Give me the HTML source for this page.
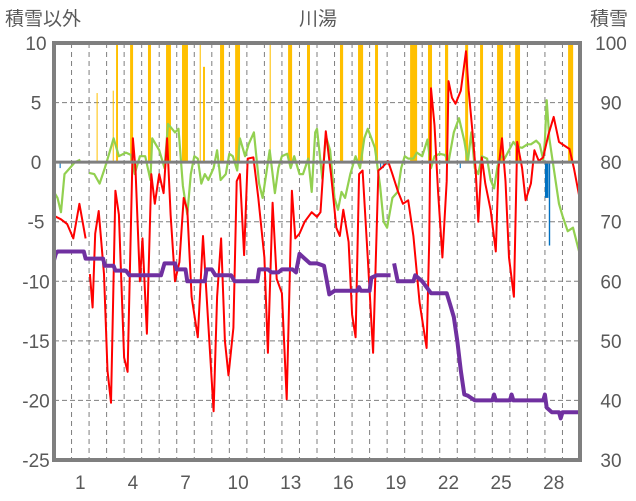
<!DOCTYPE html>
<html><head><meta charset="utf-8">
<style>
html,body{margin:0;padding:0;background:#fff;}
svg{display:block;font-family:"Liberation Sans","Noto Sans CJK JP",sans-serif;}
</style></head>
<body>
<svg id="chart" width="636" height="501" viewBox="0 0 636 501" xmlns="http://www.w3.org/2000/svg">
<text x="318" y="25" font-size="19" fill="#595959" text-anchor="middle">川湯</text>
<text x="5" y="25" font-size="19" fill="#595959">積雪以外</text>
<text x="590" y="25" font-size="19" fill="#595959">積雪</text>
<g id="grid"></g>
<g id="bars"></g>
<g id="lines"></g>
<g id="axes"></g>
</svg>
<script>
const leftTicks=[10,5,0,-5,-10,-15,-20,-25];
const rightTicks=[100,90,80,70,60,50,40,30];
const dayLabels=[1,4,7,10,13,16,19,22,25,28];
const precipStart=[2.43,3.35,3.54,4.34,5.36,6.39,7.30,8.31,8.50,9.47,10.33,12.30,13.35,14.43,16.31,17.34,18.31,20.31,21.33,22.30,23.45,24.30,25.27,26.30,29.32];
const precipEnd=[2.48,3.40,3.65,4.51,5.53,6.67,7.64,8.37,8.61,9.70,10.61,12.36,13.58,14.60,16.49,17.63,18.48,20.71,21.56,22.48,23.62,24.47,25.61,26.58,29.61];
const precipVal=[5.8,6,10,10,10,10,10,10,8,10,10,10,10,10,10,10,10,10,10,10,10,10,10,10,10];
const negStart=[0.32,9.34,18.6,18.75,23.14,28.0,28.22];
const negEnd=[0.38,9.40,18.66,18.81,23.2,28.2,28.3];
const negVal=[-0.5,-0.4,-0.5,-0.5,-0.5,-3,-7];
const redT=[0,0.4,0.75,1.1,1.45,1.8,1.9,2.05,2.2,2.35,2.55,2.85,3.05,3.25,3.5,3.7,4.0,4.2,4.5,4.65,4.9,5.05,5.3,5.55,5.75,6.0,6.25,6.45,6.65,6.9,7.15,7.4,7.6,7.85,8.2,8.5,8.8,9.1,9.3,9.53,9.75,9.95,10.23,10.42,10.6,10.84,11.05,11.37,11.65,12.0,12.2,12.47,12.7,13.0,13.27,13.57,13.76,14.0,14.3,14.7,15.0,15.2,15.5,15.8,16.1,16.3,16.5,16.8,17.0,17.2,17.4,17.6,17.9,18.2,18.5,18.75,19.05,19.3,19.6,19.9,20.2,20.5,20.85,21.25,21.4,21.5,21.7,21.9,22.15,22.4,22.5,22.7,22.9,23.2,23.5,23.65,23.85,24.05,24.2,24.4,24.6,24.9,25.2,25.35,25.55,25.75,25.95,26.23,26.42,26.7,26.9,27.2,27.4,27.65,27.9,28.2,28.5,28.8,29.1,29.4,29.65,29.95];
const redV=[-4.5,-4.8,-5.2,-6.4,-3.5,-6.4,null,-9.4,-12.2,-6,-4.1,-9.4,-17.5,-20.2,-2.4,-4.4,-16.4,-17.6,2,-0.6,-10,-6.4,-14.4,-1,-3.5,-1,-2.6,2,-4.4,-10,-8.4,-3,-4,-11.3,-14.7,-6.2,-13.6,-20.9,-11.3,-6.4,-15,-17.9,-13.9,-1.6,-1,-7.8,0.3,0.4,-3,-8,-16,-3.4,-9.8,-11,-19.9,-2.4,-6.4,-6,-5,-4.2,-4.6,-4.2,2.6,-1,-5.5,-6.2,-4,-6.7,-12.8,-14.7,-1,-0.7,-8.1,-16,-0.7,-0.4,0.1,-1,-2.4,-3.5,-3.2,-6.2,-11.8,-15.6,-6.7,6.2,3.1,-2.4,-8,-1.6,6.8,5.4,4.9,6,9.3,6,2.8,-0.7,-5,0.4,-1.8,-4,-7.5,-0.5,2,-1.6,-8,-11.3,1.7,-0.5,-3.2,-1.8,1,0.1,0.4,2.3,3.8,1.7,1.4,1.1,-0.5,-2.8];
const greenT=[0,0.2,0.4,0.6,0.9,1.2,1.5,1.75,2.0,2.3,2.6,2.9,3.1,3.4,3.7,4.1,4.4,4.6,4.9,5.2,5.5,5.6,6.0,6.3,6.5,6.9,7.1,7.35,7.6,7.8,8.0,8.2,8.4,8.6,8.8,9.1,9.3,9.5,9.8,10.0,10.2,10.45,10.6,10.9,11.1,11.4,11.7,11.9,12.1,12.3,12.6,12.8,13.0,13.3,13.5,13.7,14.0,14.2,14.5,14.7,14.9,15.0,15.3,15.5,15.75,16.0,16.2,16.4,16.6,16.9,17.2,17.45,17.7,17.9,18.1,18.3,18.6,18.8,19.0,19.3,19.6,19.8,20.0,20.2,20.5,20.7,21.0,21.3,21.5,21.7,22.0,22.3,22.5,22.8,23.1,23.4,23.6,23.8,24.0,24.2,24.4,24.7,24.9,25.1,25.3,25.5,25.7,25.95,26.2,26.4,26.7,27.0,27.2,27.5,27.7,27.9,28.0,28.1,28.25,28.5,28.8,29.0,29.3,29.6,29.95];
const greenV=[-2.5,-3,-4.2,-1,-0.5,0,0.2,null,-0.9,-1,-1.8,-0.5,0.5,2,0.5,0.8,0.6,-1,0.5,0.5,-1.5,2,1,-0.5,3.2,2.5,2.8,-2,-4.4,-1,0.5,0.3,-1.8,-1,-1.5,-0.5,1,-1.5,-1,0.7,0.5,-0.7,2,0.5,1.5,2.5,-1.8,-3,-1,1,-2.6,-0.5,0.5,0.7,-0.5,0.5,-1,-1,0.3,-2.5,2.5,2.8,-1.4,2.2,1,-3,-4,-2.5,-3,-1,0.5,-0.5,2,2.8,2,1.2,-2,-5,-5.5,-3,-2.5,-0.5,0.5,0.3,0.3,0.8,0.5,1.9,-0.5,0.5,0.7,0.6,0,2.5,3.7,1.8,0,2.5,-0.5,-1,0.5,0.3,-1.5,-2.2,-0.3,0.5,0.3,1,1.7,1.3,1.2,1.5,1.5,1.8,1.5,0.2,1.8,5.2,2,-0.5,-3.5,-4.5,-5.8,-5.5,-7.5];
const snowT=[0,0.1,0.2,1.7,1.8,2.8,2.9,3.4,3.5,4.1,4.3,6.1,6.3,6.9,7.0,7.5,7.6,8.6,8.7,9.0,9.2,10.1,10.3,11.6,11.7,12.2,12.4,12.8,13.0,13.6,13.8,14.0,14.3,14.6,15.0,15.4,15.7,16.0,17.3,17.4,17.5,18.0,18.1,18.4,19.2,19.25,19.4,19.6,20.5,20.6,21.0,21.5,22.4,22.6,22.8,23.0,23.2,23.4,23.6,24.0,24.2,25.0,25.1,25.2,26.0,26.1,26.2,27.9,28.0,28.1,28.4,28.8,28.9,29.0,29.95];
const snowV=[63.5,64.6,65,65,63.8,63.8,62.6,62.6,61.8,61.8,61,61,63,63,62,62,60,60,62,62,61,61,60,60,62,62,61.5,61.5,62,62,61.5,64.6,63.8,63,63,62.6,57.8,58.4,58.4,59,58.4,58.4,60.6,61,61,null,63,60,60,61,60,58,58,56,54,50,45,41,40.8,40,40,40,41,40,40,41,40,40,41,38.8,38,38,37,38,38];

const X0=54,X1=580,Y0=43,Y1=460,DAYS=30;
const xS=t=>X0+(X1-X0)*t/DAYS;
const yL=v=>Y1-(v+25)/35*(Y1-Y0);
const yR=s=>Y1-(s-30)/70*(Y1-Y0);
const NS="http://www.w3.org/2000/svg";
function mk(tag,parent){const e=document.createElementNS(NS,tag);parent.appendChild(e);return e;}
const grid=document.getElementById('grid'),bars=document.getElementById('bars'),lines=document.getElementById('lines'),axes=document.getElementById('axes');

leftTicks.forEach(v=>{
  if(v!==0&&v!==10&&v!==-25){const l=mk('line',grid);
  
  
  l.setAttribute('x1',X0);l.setAttribute('x2',X1);l.setAttribute('y1',yL(v));l.setAttribute('y2',yL(v));
  l.setAttribute('stroke','#7f7f7f');l.setAttribute('stroke-width','1');l.setAttribute('stroke-dasharray','5,3');}
  const t=mk('text',axes);
  
  
  t.setAttribute('x',36);t.setAttribute('y',yL(v)+7);t.setAttribute('font-size','19');t.setAttribute('fill','#595959');t.setAttribute('text-anchor','middle');
  t.textContent=v;
});
rightTicks.forEach(s=>{
  const t=mk('text',axes);
  
  
  t.setAttribute('x',611);t.setAttribute('y',yR(s)+7);t.setAttribute('font-size','19');t.setAttribute('fill','#595959');t.setAttribute('text-anchor','middle');
  t.textContent=s;
});
for(let d=1;d<DAYS;d++){
  const l=mk('line',grid);
  
  
  l.setAttribute('x1',xS(d));l.setAttribute('x2',xS(d));l.setAttribute('y1',Y0);l.setAttribute('y2',Y1);
  l.setAttribute('stroke','#7f7f7f');l.setAttribute('stroke-width','1');l.setAttribute('stroke-dasharray','5,4');
}
dayLabels.forEach(d=>{
  const t=mk('text',axes);
  
  
  t.setAttribute('x',xS(d+0.5));t.setAttribute('y',489);t.setAttribute('font-size','19');t.setAttribute('fill','#595959');t.setAttribute('text-anchor','middle');
  t.textContent=d;
});
precipStart.forEach((s,i)=>{
  const r=mk('rect',bars);
  
  
  const v=Math.min(precipVal[i],10);
  r.setAttribute('x',xS(s));r.setAttribute('width',Math.max(1,xS(precipEnd[i])-xS(s)));
  r.setAttribute('y',yL(v));r.setAttribute('height',yL(0)-yL(v));r.setAttribute('fill','#ffc000');
});
negStart.forEach((s,i)=>{
  const r=mk('rect',bars);
  
  
  r.setAttribute('x',xS(s));r.setAttribute('width',Math.max(1,xS(negEnd[i])-xS(s)));
  r.setAttribute('y',yL(0));r.setAttribute('height',yL(negVal[i])-yL(0));r.setAttribute('fill','#0070c0');
});
function pathFor(T,V,yf){
  let d='',pen=false;
  T.forEach((t,i)=>{const v=V[i];if(v===null){pen=false;return;}
    d+=(pen?'L':'M')+xS(t).toFixed(1)+','+yf(v).toFixed(1);pen=true;});
  return d;
}
function stepPath(T,V,yf){
  let d='',pen=false,prev=null;
  T.forEach((t,i)=>{const v=V[i];if(v===null){pen=false;prev=null;return;}
    d+=(pen?'L':'M')+xS(t).toFixed(1)+','+yf(v).toFixed(1);pen=true;});
  return d;
}
const g=mk('path',lines);


g.setAttribute('d',pathFor(greenT,greenV,yL));g.setAttribute('fill','none');g.setAttribute('stroke','#92d050');g.setAttribute('stroke-width','2.2');g.setAttribute('stroke-linejoin','round');
const r=mk('path',lines);


r.setAttribute('d',pathFor(redT,redV,yL));r.setAttribute('fill','none');r.setAttribute('stroke','#ff0000');r.setAttribute('stroke-width','2');r.setAttribute('stroke-linejoin','round');
const p=mk('path',lines);


p.setAttribute('d',stepPath(snowT,snowV,yR));p.setAttribute('fill','none');p.setAttribute('stroke','#7030a0');p.setAttribute('stroke-width','4');p.setAttribute('stroke-linejoin','round');

const z=mk('line',axes);


z.setAttribute('x1',X0);z.setAttribute('x2',X1);z.setAttribute('y1',yL(0));z.setAttribute('y2',yL(0));z.setAttribute('stroke','#7f7f7f');z.setAttribute('stroke-width','3');
const f=mk('rect',axes);


f.setAttribute('x',X0);f.setAttribute('y',Y0);f.setAttribute('width',X1-X0);f.setAttribute('height',Y1-Y0);f.setAttribute('fill','none');f.setAttribute('stroke','#7f7f7f');f.setAttribute('stroke-width','4');
</script>
</body></html>
